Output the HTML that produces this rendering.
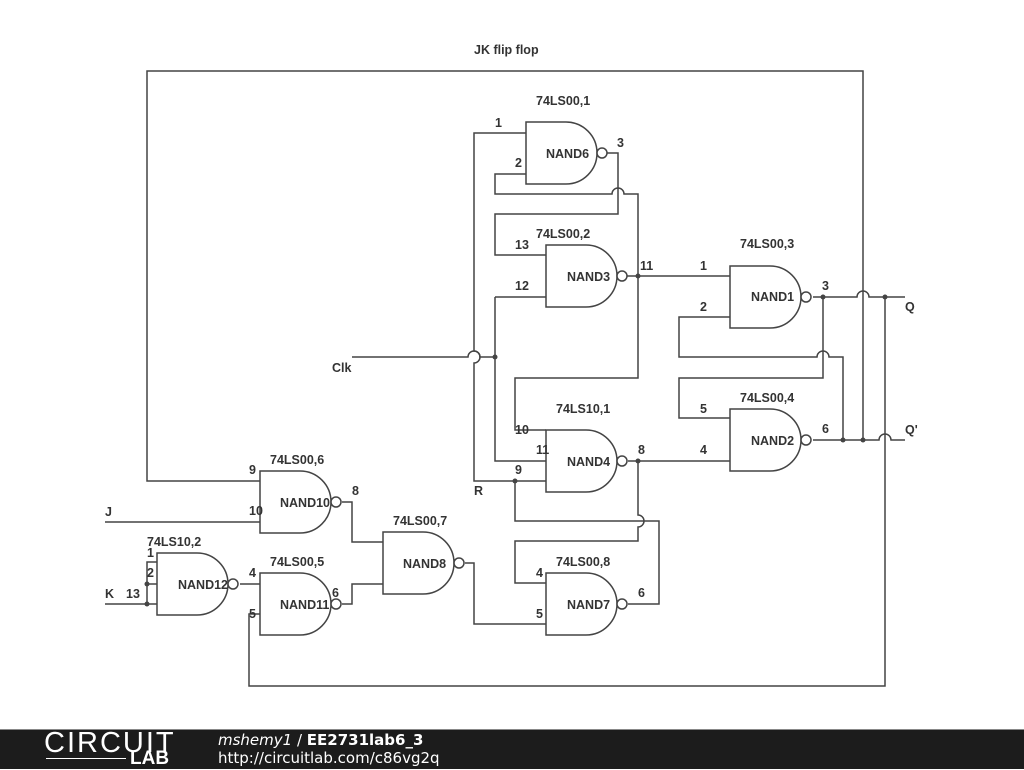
<!DOCTYPE html>
<html><head><style>
body{margin:0;width:1024px;height:768px;overflow:hidden;background:#fff;font-family:"Liberation Sans",sans-serif}
svg text{font-family:"Liberation Sans",sans-serif;font-weight:bold;font-size:12.5px;fill:#333}
</style></head><body>
<svg width="1024" height="768" style="position:absolute;left:0;top:0">
<defs>
<g id="g"><path d="M0,0 H40 A31,31 0 0 1 40,62 H0 Z" fill="#fff" stroke="#444" stroke-width="1.5"/><circle cx="76" cy="31" r="5" fill="#fff" stroke="#444" stroke-width="1.5"/></g>
</defs>
<g fill="none" stroke="#444" stroke-width="1.5">
<path d="M863,440 V71 H147 V481 H260"/>
<path d="M885,297 V686 H249 V614 H260"/>
<path d="M813,297 H857 A6,6 0 0 1 869,297 H905"/>
<path d="M813,440 H879 A6,6 0 0 1 891,440 H905"/>
<path d="M730,317 H679 V357 H817 A6,6 0 0 1 829,357 H843 V440"/>
<path d="M823,297 V378 H679 V418 H730"/>
<path d="M526,133 H474 V351 A6,6 0 0 1 474,363 V481 H546"/>
<path d="M352,357 H468 A6,6 0 0 1 480,357 H495"/>
<path d="M495,297 V461 H546"/>
<path d="M495,297 H546"/>
<path d="M526,174 H495 V194 H612 A6,6 0 0 1 624,194 H638 V378 H515 V430 H546"/>
<path d="M606,153 H618 V214 H495 V255 H546"/>
<path d="M626,276 H730"/>
<path d="M628,461 H730"/>
<path d="M638,461 V515 A6,6 0 0 1 638,527 V541 H515 V583 H546"/>
<path d="M515,481 V521 H659 V604 H628"/>
<path d="M465,563 H474 V624 H546"/>
<path d="M342,502 H352 V542 H383"/>
<path d="M342,604 H352 V584 H383"/>
<path d="M105,522 H260"/>
<path d="M105,604 H157"/>
<path d="M157,562 H147 V604"/>
<path d="M147,584 H160"/>
<path d="M240,584 H260"/>
</g>
<g fill="#444">
<circle cx="823" cy="297" r="2.5"/><circle cx="885" cy="297" r="2.5"/>
<circle cx="843" cy="440" r="2.5"/><circle cx="863" cy="440" r="2.5"/>
<circle cx="638" cy="276" r="2.5"/><circle cx="638" cy="461" r="2.5"/>
<circle cx="495" cy="357" r="2.5"/><circle cx="515" cy="481" r="2.5"/>
<circle cx="147" cy="584" r="2.5"/><circle cx="147" cy="604" r="2.5"/>
</g>
<use href="#g" x="526" y="122"/><use href="#g" x="546" y="245"/>
<use href="#g" x="730" y="266"/><use href="#g" x="730" y="409"/>
<use href="#g" x="546" y="430"/><use href="#g" x="546" y="573"/>
<use href="#g" x="383" y="532"/><use href="#g" x="260" y="471"/>
<use href="#g" x="260" y="573"/><use href="#g" x="157" y="553"/>
<text x="474" y="54">JK flip flop</text>
<text x="536" y="105">74LS00,1</text><text x="546" y="158">NAND6</text>
<text x="495" y="127">1</text><text x="515" y="167">2</text><text x="617" y="147">3</text>
<text x="536" y="238">74LS00,2</text><text x="567" y="281">NAND3</text>
<text x="515" y="249">13</text><text x="515" y="290">12</text><text x="640" y="270">11</text>
<text x="740" y="248">74LS00,3</text><text x="751" y="301">NAND1</text>
<text x="700" y="270">1</text><text x="700" y="311">2</text><text x="822" y="290">3</text>
<text x="905" y="311">Q</text><text x="905" y="434">Q'</text>
<text x="740" y="402">74LS00,4</text><text x="751" y="445">NAND2</text>
<text x="700" y="413">5</text><text x="700" y="454">4</text><text x="822" y="433">6</text>
<text x="332" y="372">Clk</text>
<text x="556" y="413">74LS10,1</text><text x="567" y="466">NAND4</text>
<text x="515" y="434">10</text><text x="536" y="454">11</text><text x="515" y="474">9</text>
<text x="638" y="454">8</text><text x="474" y="495">R</text>
<text x="556" y="566">74LS00,8</text><text x="567" y="609">NAND7</text>
<text x="536" y="577">4</text><text x="536" y="618">5</text><text x="638" y="597">6</text>
<text x="393" y="525">74LS00,7</text><text x="403" y="568">NAND8</text>
<text x="270" y="464">74LS00,6</text><text x="280" y="507">NAND10</text>
<text x="249" y="474">9</text><text x="249" y="515">10</text><text x="352" y="495">8</text>
<text x="270" y="566">74LS00,5</text><text x="280" y="609">NAND11</text>
<text x="249" y="577">4</text><text x="249" y="618">5</text><text x="332" y="597">6</text>
<text x="147" y="546">74LS10,2</text><text x="178" y="589">NAND12</text>
<text x="147" y="557">1</text><text x="147" y="577">2</text><text x="126" y="598">13</text>
<text x="105" y="598">K</text><text x="105" y="516">J</text>
</svg>
<div style="position:absolute;left:0;top:729px;width:1024px;height:39px;background:#1c1c1c;border-top:1px solid #888"></div>
<div style="position:absolute;left:44px;top:727px;color:#fff;font-size:29px;letter-spacing:2px;font-family:'Liberation Sans',sans-serif">CIRCUIT</div>
<div style="position:absolute;left:46px;top:758px;width:80px;height:1px;background:#fff"></div>
<div style="position:absolute;left:130px;top:748px;color:#fff;font-size:19px;font-weight:bold;font-family:'Liberation Sans',sans-serif">LAB</div>
<div style="position:absolute;left:218px;top:731px;color:#fff;font-size:15px;font-family:'DejaVu Sans',sans-serif"><i>mshemy1</i> / <b>EE2731lab6_3</b></div>
<div style="position:absolute;left:218px;top:749px;color:#fff;font-size:15px;font-family:'DejaVu Sans',sans-serif">http://circuitlab.com/c86vg2q</div>
</body></html>
